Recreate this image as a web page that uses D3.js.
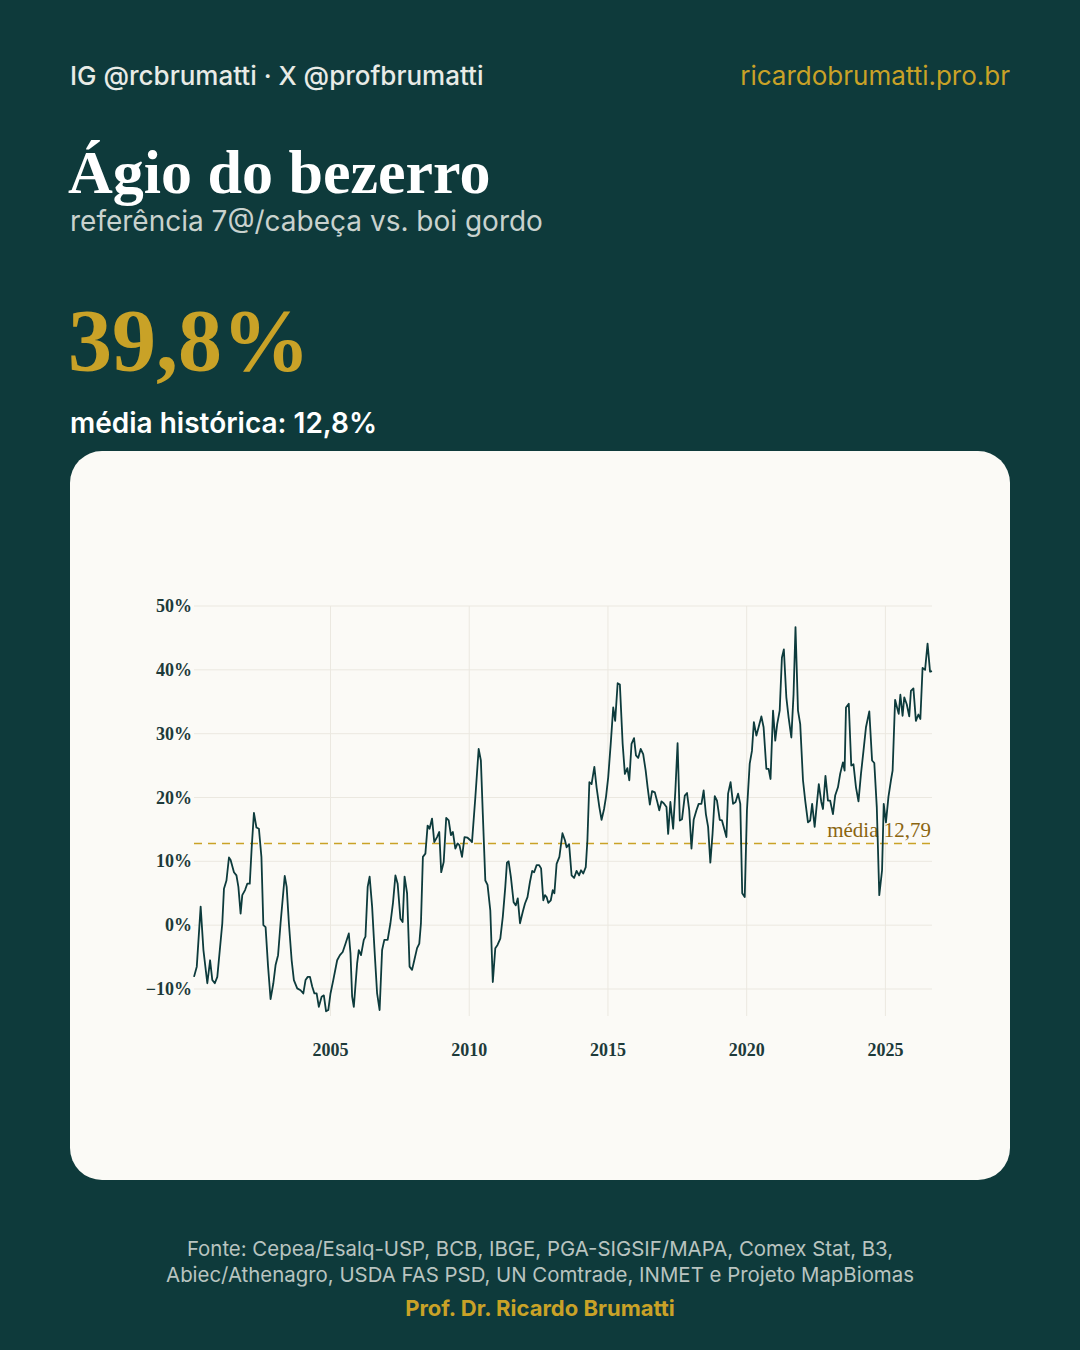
<!DOCTYPE html>
<html><head><meta charset="utf-8">
<script src="https://cdn.jsdelivr.net/npm/d3@7"></script>
<style>body{margin:0;background:#0e3a3b;}svg{display:block}</style>
</head><body>
<svg id="c" width="1080" height="1350"></svg>
<script>
const years = [2000.08,2000.18,2000.32,2000.42,2000.56,2000.66,2000.74,2000.83,2000.92,2001.10,2001.16,2001.25,2001.34,2001.40,2001.52,2001.61,2001.68,2001.76,2001.82,2001.92,2002.00,2002.09,2002.16,2002.24,2002.33,2002.42,2002.51,2002.58,2002.66,2002.75,2002.84,2002.94,2003.02,2003.11,2003.20,2003.35,2003.42,2003.50,2003.60,2003.68,2003.80,2003.92,2004.02,2004.10,2004.18,2004.26,2004.34,2004.42,2004.50,2004.58,2004.68,2004.76,2004.84,2004.92,2005.00,2005.10,2005.24,2005.34,2005.44,2005.54,2005.66,2005.72,2005.78,2005.84,2005.96,2006.02,2006.10,2006.20,2006.26,2006.34,2006.41,2006.50,2006.58,2006.68,2006.77,
2006.86,2006.94,2007.06,2007.16,2007.25,2007.34,2007.42,2007.52,2007.60,2007.67,2007.76,2007.85,2007.94,2008.02,2008.12,2008.20,2008.26,2008.33,2008.42,2008.50,2008.57,2008.66,2008.74,2008.84,2008.92,2008.99,2009.08,2009.17,2009.26,2009.34,2009.41,2009.50,2009.58,2009.65,2009.74,2009.83,2009.94,2010.04,2010.10,2010.22,2010.34,2010.42,2010.49,2010.58,2010.66,2010.76,2010.85,2010.94,2011.02,2011.12,2011.21,2011.30,2011.36,2011.42,2011.50,2011.60,2011.68,2011.75,2011.83,2011.93,2012.01,2012.10,2012.19,2012.27,2012.34,2012.43,2012.52,2012.59,2012.67,2012.73,2012.79,2012.85,2012.94,2013.01,2013.07,2013.15,2013.25,
2013.36,2013.45,2013.51,2013.60,2013.69,2013.78,2013.87,2013.96,2014.03,2014.11,2014.20,2014.26,2014.33,2014.41,2014.51,2014.59,2014.69,2014.77,2014.86,2014.93,2015.01,2015.10,2015.19,2015.26,2015.35,2015.43,2015.53,2015.61,2015.70,2015.77,2015.85,2015.94,2016.01,2016.09,2016.18,2016.27,2016.36,2016.43,2016.51,2016.59,2016.69,2016.78,2016.85,2016.93,2017.01,2017.11,2017.17,2017.25,2017.35,2017.43,2017.51,2017.59,2017.67,2017.77,2017.85,2017.93,2018.01,2018.09,2018.19,2018.27,2018.37,2018.45,2018.53,2018.61,2018.69,2018.77,2018.85,2018.93,2019.03,2019.11,2019.19,2019.27,2019.33,2019.42,2019.51,2019.60,2019.69,2019.77,
2019.84,2019.93,2020.01,2020.11,2020.19,2020.26,2020.35,2020.43,2020.53,2020.61,2020.71,2020.79,2020.86,2020.95,2021.03,2021.10,2021.19,2021.27,2021.34,2021.43,2021.51,2021.61,2021.69,2021.76,2021.85,2021.93,2022.03,2022.11,2022.21,2022.29,2022.36,2022.45,2022.53,2022.60,2022.69,2022.75,2022.84,2022.93,2023.01,2023.11,2023.19,2023.29,2023.37,2023.47,2023.53,2023.58,2023.68,2023.77,2023.85,2023.94,2024.03,2024.12,2024.21,2024.30,2024.42,2024.52,2024.60,2024.69,2024.78,2024.88,2024.94,2025.02,2025.11,2025.20,2025.26,2025.35,2025.42,2025.48,2025.54,2025.62,2025.68,2025.77,2025.86,2025.92,2026.01,2026.10,2026.19,2026.26,2026.34,2026.43,2026.52,2026.61,2026.68];
const agio = [-8.1,-6.5,2.9,-3.9,-9.1,-5.5,-8.6,-9.1,-8.1,0.3,5.7,7.0,10.6,10.2,8.3,7.8,6.0,1.8,4.7,5.5,6.5,6.5,12.2,17.6,15.3,15.1,10.7,0.0,-0.3,-6.5,-11.6,-9.1,-6.25,-4.7,0.3,7.7,6.0,0.3,-5.5,-8.6,-9.9,-10.2,-10.7,-8.6,-8.1,-8.1,-9.6,-10.7,-10.7,-12.8,-11.2,-11.0,-13.5,-13.3,-10.7,-8.6,-5.5,-4.7,-4.2,-2.9,-1.3,-4.4,-11.2,-12.8,-6.0,-3.9,-4.7,-2.3,-1.8,6.0,7.6,2.9,-3.4,-10.7,-13.3,
-3.9,-2.3,-2.3,0.3,3.4,7.8,6.5,1.0,0.5,7.6,5.0,-6.5,-7.0,-5.5,-3.6,-2.9,0.3,10.7,11.2,15.6,15.1,16.7,13.0,13.8,14.6,8.3,9.9,16.8,16.4,14.1,14.6,12.0,12.8,12.5,10.7,13.8,13.7,13.3,13.0,20.0,27.6,25.8,17.4,7.0,6.3,2.3,-8.9,-3.6,-3.1,-2.1,1.3,6.0,9.8,10.0,7.6,3.6,3.1,4.2,0.3,2.1,3.4,4.4,6.8,8.5,8.3,9.4,9.4,8.9,3.9,4.7,4.4,3.5,3.9,5.5,5.0,9.6,10.7,
14.4,13.3,12.2,12.7,7.8,7.4,8.5,7.8,8.6,8.1,9.1,13.3,22.4,22.1,24.8,21.6,18.5,16.5,18.2,20.1,23.2,28.4,34.1,32.0,37.9,37.7,28.4,23.7,24.6,22.7,28.4,29.3,26.6,26.2,27.6,26.8,24.2,21.6,18.9,21.0,20.8,19.3,18.0,19.4,19.1,18.5,14.3,19.3,15.1,21.1,28.5,16.4,16.6,20.3,20.7,18.0,12.0,16.5,18.0,19.0,19.0,21.1,17.4,15.4,9.8,14.3,20.2,19.5,16.5,16.4,15.1,13.8,20.6,22.4,19.0,19.3,20.6,19.0,
5.0,4.4,18.0,25.3,27.3,31.8,29.7,31.0,32.7,31.0,24.5,24.5,22.9,33.6,28.9,31.5,33.6,41.9,43.2,35.7,32.6,29.4,36.2,46.7,33.6,31.5,22.7,19.5,16.1,16.4,19.0,15.4,19.0,22.1,19.3,18.2,23.4,19.5,19.5,17.4,20.3,21.6,23.7,25.5,24.2,34.1,34.7,25.0,25.2,21.6,19.4,23.7,27.3,31.0,33.5,25.8,25.4,18.5,4.7,8.6,19.0,16.1,20.1,22.7,24.2,35.3,34.1,33.1,36.1,32.8,35.7,34.6,32.7,36.7,37.1,32.0,33.0,32.3,40.3,40.0,44.1,39.7,39.8];
const yTicks = [-10,0,10,20,30,40,50];
const xTicks = [2005,2010,2015,2020,2025];
const mean = 12.79;

const svg = d3.select("#c");
const sans = "Inter, 'Noto Sans', sans-serif";
const serif = "'Liberation Serif', 'DejaVu Serif', serif";
svg.append("text").attr("x",70).attr("y",85).attr("fill","#e8ebe6").attr("font-family",sans).attr("font-size",26).attr("font-weight",500).text("IG @rcbrumatti · X @profbrumatti");
svg.append("text").attr("x",1010).attr("y",85).attr("text-anchor","end").attr("fill","#c9a227").attr("font-family",sans).attr("font-size",26).text("ricardobrumatti.pro.br");
svg.append("text").attr("x",68).attr("y",193).attr("fill","#ffffff").attr("font-family",serif).attr("font-size",62).attr("font-weight","bold").text("Ágio do bezerro");
svg.append("text").attr("x",70).attr("y",231).attr("fill","#c9d2ce").attr("font-family",sans).attr("font-size",28).text("referência 7@/cabeça vs. boi gordo");
svg.append("text").attr("x",68).attr("y",370).attr("fill","#c9a227").attr("font-family",serif).attr("font-size",88).attr("font-weight","bold").text("39,8%");
svg.append("text").attr("x",70).attr("y",433).attr("fill","#ffffff").attr("font-family",sans).attr("font-size",28).attr("font-weight",600).text("média histórica: 12,8%");

svg.append("rect").attr("x",70).attr("y",451).attr("width",940).attr("height",729).attr("rx",32).attr("fill","#fbfaf6");

const x = d3.scaleLinear().domain([2000.08,2026.68]).range([194,932]);
const y = d3.scaleLinear().domain([-10,50]).range([989,606]);
const g = svg.append("g");
g.selectAll(".hg").data(yTicks).join("line").attr("x1",194).attr("x2",932).attr("y1",d=>y(d)).attr("y2",d=>y(d)).attr("stroke","#ebe8e0").attr("stroke-width",1);
g.selectAll(".vg").data(xTicks).join("line").attr("x1",d=>x(d)).attr("x2",d=>x(d)).attr("y1",606).attr("y2",1016).attr("stroke","#ebe8e0").attr("stroke-width",1);
g.selectAll(".yl").data(yTicks).join("text").attr("x",192).attr("y",d=>y(d)+6).attr("text-anchor","end").attr("fill","#1d3a3a").attr("font-family",serif).attr("font-size",18).attr("font-weight",600).text(d=>(d<0?"\u2212"+(-d):d)+"%");
g.selectAll(".xl").data(xTicks).join("text").attr("x",d=>x(d)).attr("y",1056).attr("text-anchor","middle").attr("fill","#1d3a3a").attr("font-family",serif).attr("font-size",18).attr("font-weight",600).text(d=>d);
g.append("line").attr("x1",194).attr("x2",932).attr("y1",y(mean)).attr("y2",y(mean)).attr("stroke","#c9a227").attr("stroke-width",1.6).attr("stroke-dasharray","8,6");
g.append("text").attr("x",931).attr("y",y(mean)-7).attr("text-anchor","end").attr("fill","#8a6510").attr("font-family",serif).attr("font-size",21).text("média 12,79");
const data = years.map((t,i)=>[t,agio[i]]);
g.append("path").datum(data).attr("d",d3.line().x(d=>x(d[0])).y(d=>y(d[1]))).attr("fill","none").attr("stroke","#0d3b3c").attr("stroke-width",1.8).attr("stroke-linejoin","round");

svg.append("text").attr("x",540).attr("y",1256).attr("text-anchor","middle").attr("fill","#b9c4c0").attr("font-family",sans).attr("font-size",20.4).text("Fonte: Cepea/Esalq-USP, BCB, IBGE, PGA-SIGSIF/MAPA, Comex Stat, B3,");
svg.append("text").attr("x",540).attr("y",1282).attr("text-anchor","middle").attr("fill","#b9c4c0").attr("font-family",sans).attr("font-size",20.4).text("Abiec/Athenagro, USDA FAS PSD, UN Comtrade, INMET e Projeto MapBiomas");
svg.append("text").attr("x",540).attr("y",1316).attr("text-anchor","middle").attr("fill","#c9a227").attr("font-family",sans).attr("font-size",22).attr("font-weight",700).text("Prof. Dr. Ricardo Brumatti");
</script></body></html>
